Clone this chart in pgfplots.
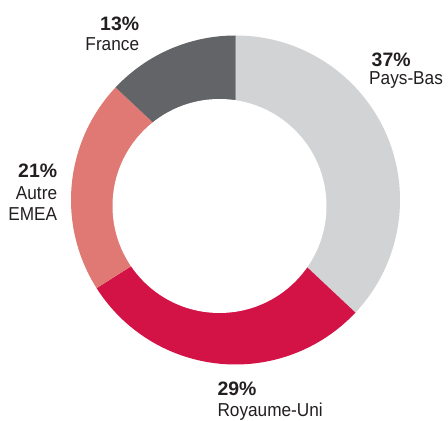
\documentclass[border=0pt]{standalone}
\usepackage{pgfplots}
\pgfplotsset{compat=1.18}
\usepackage{pgfplotstable}
\usepackage{fontspec}
\setmainfont{Liberation Sans}
\newfontfamily\lbfont[FakeStretch=0.92]{Liberation Sans}
\definecolor{cPB}{HTML}{D1D3D4}
\definecolor{cRU}{HTML}{D31245}
\definecolor{cAE}{HTML}{E07874}
\definecolor{cFR}{HTML}{636467}
\definecolor{ctxt}{HTML}{231F20}
\pgfplotstableread{
label share
PaysBas 37
RoyaumeUni 29
AutreEMEA 21
France 13
}\shares
\begin{document}
\begin{tikzpicture}
\pgfplotstablegetelem{0}{share}\of\shares \edef\sA{\pgfplotsretval}
\pgfplotstablegetelem{1}{share}\of\shares \edef\sB{\pgfplotsretval}
\pgfplotstablegetelem{2}{share}\of\shares \edef\sC{\pgfplotsretval}
\pgfplotstablegetelem{3}{share}\of\shares \edef\sD{\pgfplotsretval}
\pgfmathsetmacro\aA{90}
\pgfmathsetmacro\aB{\aA-3.6*\sA}
\pgfmathsetmacro\aC{\aB-3.6*\sB}
\pgfmathsetmacro\aD{\aC-3.6*\sC}
\pgfmathsetmacro\aE{\aD-3.6*\sD}
\begin{axis}[scale only axis, width=448bp, height=421bp,
  xmin=0, xmax=448, ymin=0, ymax=421, hide axis, clip=false]
\path (rel axis cs:0,0) rectangle (rel axis cs:1,1);
\fill[cPB] (axis cs:235.5,221) -- ++(\aA:164.5bp) arc[start angle=\aA, end angle=\aB, radius=164.5bp] -- cycle;
\fill[cRU] (axis cs:235.5,221) -- ++(\aB:164.5bp) arc[start angle=\aB, end angle=\aC, radius=164.5bp] -- cycle;
\fill[cAE] (axis cs:235.5,221) -- ++(\aC:164.5bp) arc[start angle=\aC, end angle=\aD, radius=164.5bp] -- cycle;
\fill[cFR] (axis cs:235.5,221) -- ++(\aD:164.5bp) arc[start angle=\aD, end angle=\aE, radius=164.5bp] -- cycle;
\fill[white] (axis cs:219.5,215) circle[radius=107bp];
\tikzset{pc/.style={text=ctxt, inner sep=0pt, font=\bfseries\fontsize{19.5}{19.5}\selectfont},
         lb/.style={text=ctxt, inner sep=0pt, font=\lbfont\fontsize{18.8}{18.8}\selectfont}}
\node[pc, anchor=base east] at (axis cs:139.3,390.3) {13\%};
\node[lb, anchor=base east] at (axis cs:139.3,370.3) {France};
\node[pc, anchor=base west] at (axis cs:371.5,354.3) {37\%};
\node[lb, anchor=base west] at (axis cs:369,336.5) {Pays-Bas};
\node[pc, anchor=base east] at (axis cs:57.3,243.7) {21\%};
\node[lb, anchor=base east] at (axis cs:57.3,221.7) {Autre};
\node[lb, anchor=base east] at (axis cs:57.3,200) {EMEA};
\node[pc, anchor=base west] at (axis cs:217.3,25.3) {29\%};
\node[lb, anchor=base west] at (axis cs:217.3,5) {Royaume-Uni};
\end{axis}
\end{tikzpicture}
\end{document}
